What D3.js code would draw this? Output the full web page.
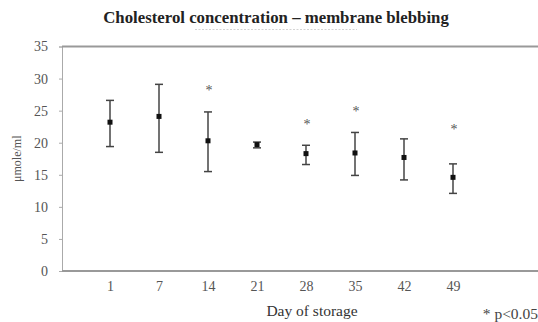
<!DOCTYPE html>
<html>
<head>
<meta charset="utf-8">
<script src="https://cdn.jsdelivr.net/npm/d3@7"></script>
<style>
  body { margin: 0; background: #fff; }
  text { font-family: "Liberation Serif", "DejaVu Serif", serif; }
</style>
</head>
<body>
<div id="app"></div>
<script>
const days = ["1", "7", "14", "21", "28", "35", "42", "49"]
const means = [23.2, 24.1, 20.3, 19.7, 18.3, 18.4, 17.7, 14.6]
const upper = [26.6, 29.1, 24.8, 20.1, 19.6, 21.6, 20.6, 16.7]
const lower = [19.4, 18.5, 15.5, 19.2, 16.6, 14.9, 14.2, 12.1]
const stars = [null, null, 28.7, null, 23.4, 25.4, null, 22.6]
const yTicks = [0, 5, 10, 15, 20, 25, 30, 35]

const svg = d3.select("#app").append("svg")
  .attr("width", 538)
  .attr("height", 322)

const fx = d3.scalePoint()
  .domain(days)
  .range([110, 453])

const fy = d3.scaleLinear()
  .domain([0, 35])
  .range([271, 46.5])

// title
svg.append("text")
  .attr("x", 276)
  .attr("y", 23)
  .attr("text-anchor", "middle")
  .attr("font-weight", "bold")
  .attr("font-size", 16.8)
  .attr("fill", "#222")
  .text("Cholesterol concentration \u2013 membrane blebbing")

svg.append("line")
  .attr("x1", 195).attr("x2", 357)
  .attr("y1", 29.5).attr("y2", 29.5)
  .attr("stroke", "#d4d4d4")
  .attr("stroke-dasharray", "2,1.5")

// y axis
const gy = svg.append("g")
  .attr("transform", "translate(62,0)")
  .call(d3.axisLeft(fy).tickValues(yTicks).tickSize(3).tickPadding(11))
gy.select(".domain").attr("stroke", "#aaa")
gy.selectAll(".tick line").attr("stroke", "#aaa")
gy.selectAll(".tick text")
  .attr("font-family", "Liberation Serif, serif")
  .attr("font-size", 14)
  .attr("fill", "#555")

// top and bottom frame lines
svg.append("line")
  .attr("x1", 62).attr("x2", 538)
  .attr("y1", fy(35)).attr("y2", fy(35))
  .attr("stroke", "#999").attr("stroke-width", 2)

const gx = svg.append("g")
  .attr("transform", `translate(0,${fy(0)})`)
  .call(d3.axisBottom(fx).tickSize(0).tickPadding(10))
gx.select(".domain").remove()
gx.selectAll(".tick text")
  .attr("font-family", "Liberation Serif, serif")
  .attr("font-size", 14)
  .attr("fill", "#555")
svg.append("line")
  .attr("x1", 62).attr("x2", 538)
  .attr("y1", fy(0)).attr("y2", fy(0))
  .attr("stroke", "#999").attr("stroke-width", 2)

// axis titles
svg.append("text")
  .attr("transform", `translate(21,${(fy(0) + fy(35)) / 2}) rotate(-90)`)
  .attr("text-anchor", "middle")
  .attr("font-size", 12)
  .attr("fill", "#555")
  .text("\u03bcmole/ml")

svg.append("text")
  .attr("x", 312).attr("y", 316)
  .attr("text-anchor", "middle")
  .attr("font-size", 15.5)
  .attr("fill", "#333")
  .text("Day of storage")

svg.append("text")
  .attr("x", 538).attr("y", 319)
  .attr("text-anchor", "end")
  .attr("font-size", 15.5)
  .attr("fill", "#444")
  .text("* p<0.05")

// error bars
const g = svg.append("g")
  .attr("stroke", "#444")
  .attr("stroke-width", 1.5)
g.selectAll("line.bar")
  .data(days)
  .join("line")
    .attr("class", "bar")
    .attr("x1", d => fx(d)).attr("x2", d => fx(d))
    .attr("y1", (d, i) => fy(upper[i]))
    .attr("y2", (d, i) => fy(lower[i]))
g.selectAll("line.cap-hi")
  .data(days)
  .join("line")
    .attr("class", "cap-hi")
    .attr("x1", d => fx(d) - 4).attr("x2", d => fx(d) + 4)
    .attr("y1", (d, i) => fy(upper[i])).attr("y2", (d, i) => fy(upper[i]))
g.selectAll("line.cap-lo")
  .data(days)
  .join("line")
    .attr("class", "cap-lo")
    .attr("x1", d => fx(d) - 4).attr("x2", d => fx(d) + 4)
    .attr("y1", (d, i) => fy(lower[i])).attr("y2", (d, i) => fy(lower[i]))

// mean markers
svg.selectAll("rect.mean")
  .data(days)
  .join("rect")
    .attr("class", "mean")
    .attr("x", d => fx(d) - 2.5)
    .attr("y", (d, i) => fy(means[i]) - 2.5)
    .attr("width", 5).attr("height", 5)
    .attr("fill", "#111")

// significance stars
svg.selectAll("text.star")
  .data(days.filter((d, i) => stars[i] !== null))
  .join("text")
    .attr("class", "star")
    .attr("x", d => fx(d) + 1)
    .attr("y", d => fy(stars[days.indexOf(d)]) + 8)
    .attr("text-anchor", "middle")
    .attr("font-size", 14)
    .attr("fill", "#555")
    .text("*")
</script>
</body>
</html>
